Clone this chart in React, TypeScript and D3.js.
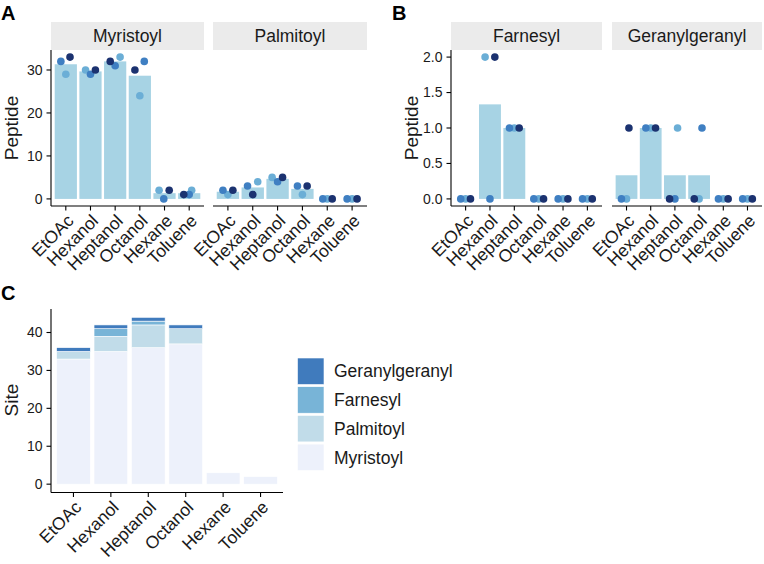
import React from "react";
import * as d3 from "d3";

const solvents = ["EtOAc", "Hexanol", "Heptanol", "Octanol", "Hexane", "Toluene"];
const replicateColors = ["#6baed6", "#3f7fc2", "#1b3270"];

// Panel A: peptide counts per replicate (light, medium, dark)
const myrRep1 = [29, 30, 33, 24, 2, 2];
const myrRep2 = [32, 29, 31, 32, 0, 1];
const myrRep3 = [33, 30, 32, 30, 2, 1];
const palRep1 = [1, 4, 5, 1, 0, 0];
const palRep2 = [2, 3, 4, 3, 0, 0];
const palRep3 = [2, 1, 5, 3, 0, 0];
// Panel B
const farRep1 = [0, 2, 1, 0, 0, 0];
const farRep2 = [0, 0, 1, 0, 0, 0];
const farRep3 = [0, 2, 1, 0, 0, 0];
const gerRep1 = [0, 1, 1, 0, 0, 0];
const gerRep2 = [0, 1, 0, 1, 0, 0];
const gerRep3 = [1, 1, 0, 0, 0, 0];

// horizontal jitter (fraction of category step) as seen in the reference
const myrJit = [[0, -0.2, 0.2, 0, -0.22, 0.1], [-0.2, 0, 0, 0.18, -0.03, 0], [0.17, 0.2, -0.2, -0.2, 0.19, -0.22]];
const palJit = [[0, 0.2, -0.22, 0, 0, 0], [-0.2, -0.21, 0, -0.2, -0.18, -0.2], [0.2, 0, 0.2, 0.19, 0.2, 0.2]];
const farJit = [[0, -0.2, 0, 0, 0, 0], [-0.2, 0, -0.2, -0.2, -0.2, -0.2], [0.2, 0.2, 0.2, 0.2, 0.2, 0.2]];
const gerJit = [[0, 0, 0.11, 0, 0, 0], [-0.21, -0.2, 0, 0.12, -0.2, -0.2], [0.1, 0.2, -0.22, -0.2, 0.2, 0.2]];

// Panel C: site counts
const siteMyristoyl = [33, 35, 36, 37, 3, 2];
const sitePalmitoyl = [2, 4, 6, 4, 0, 0];
const siteFarnesyl = [0, 2, 1, 0, 0, 0];
const siteGeranylgeranyl = [1, 1, 1, 1, 0, 0];
const siteTypes = ["Myristoyl", "Palmitoyl", "Farnesyl", "Geranylgeranyl"];
const siteColors = ["#edf1fb", "#c1dce9", "#78b4d7", "#407bbd"];

const ticksA = [0, 10, 20, 30];
const ticksB = [0, 0.5, 1, 1.5, 2];
const ticksC = [0, 10, 20, 30, 40];

const FONT = "Liberation Sans, Arial, Helvetica, sans-serif";
const BAR = "#a7d3e4";
const TXT = "#1a1a1a";
const TICK = 4.5;

type Facet = { name: string; x0: number; x1: number; reps: number[][]; jit: number[][]; yAxis: boolean };

function XAxis({ x, y }: { x: d3.ScaleBand<string>; y: number }) {
  const [r0, r1] = x.range();
  return (
    <g>
      <line x1={r0} x2={r1} y1={y} y2={y} stroke="#000" strokeWidth={1.1} />
      {solvents.map((s) => {
        const cx = (x(s) as number) + x.bandwidth() / 2;
        const ty = y + TICK + 2.5;
        return (
          <g key={s}>
            <line x1={cx} x2={cx} y1={y} y2={y + TICK} stroke="#000" strokeWidth={1.1} />
            <text x={cx} y={ty} dy="0.72em" textAnchor="end" fontSize={17.5} fill={TXT}
              transform={`rotate(-45, ${cx}, ${ty})`}>{s}</text>
          </g>
        );
      })}
    </g>
  );
}

function YAxis({ y, x, ticks, fmt }: { y: d3.ScaleLinear<number, number>; x: number; ticks: number[]; fmt: (v: number) => string }) {
  const [b, t] = y.range();
  return (
    <g>
      <line x1={x} x2={x} y1={b} y2={t} stroke="#000" strokeWidth={1.1} />
      {ticks.map((v) => (
        <g key={v}>
          <line x1={x - TICK} x2={x} y1={y(v)} y2={y(v)} stroke="#000" strokeWidth={1.1} />
          <text x={x - TICK - 4} y={y(v)} dy="0.35em" textAnchor="end" fontSize={14} fill={TXT}>{fmt(v)}</text>
        </g>
      ))}
    </g>
  );
}

function PeptidePanel({ facets, y, ticks, fmt }: { facets: Facet[]; y: d3.ScaleLinear<number, number>; ticks: number[]; fmt: (v: number) => string }) {
  const [yb, yt] = y.range();
  return (
    <g>
      {facets.map((f) => {
        const x = d3.scaleBand<string>().domain(solvents).range([f.x0, f.x1]).paddingInner(0.1).paddingOuter(0.15);
        const step = x.step();
        const means = solvents.map((_, i) => d3.mean(f.reps.map((r) => r[i])) as number);
        return (
          <g key={f.name}>
            <rect x={f.x0} y={22} width={f.x1 - f.x0} height={yt - 22} fill="#ebebeb" />
            <text x={(f.x0 + f.x1) / 2} y={36} dy="0.35em" textAnchor="middle" fontSize={17.5} fill={TXT}>{f.name}</text>
            {solvents.map((s, i) => (
              <rect key={s} x={x(s)} y={y(means[i])} width={x.bandwidth()} height={y(0) - y(means[i])} fill={BAR} />
            ))}
            {f.reps.map((rep, ri) =>
              rep.map((v, i) => (
                <circle key={`${ri}-${i}`} cx={(x(solvents[i]) as number) + x.bandwidth() / 2 + f.jit[ri][i] * step}
                  cy={y(v)} r={3.8} fill={replicateColors[ri]} />
              ))
            )}
            <XAxis x={x} y={yb} />
            {f.yAxis && <YAxis y={y} x={f.x0} ticks={ticks} fmt={fmt} />}
          </g>
        );
      })}
    </g>
  );
}

export default function App() {
  const yA = d3.scaleLinear().domain([-1.65, 34.65]).range([206, 50]);
  const yB = d3.scaleLinear().domain([-0.1, 2.1]).range([206, 50]);
  const yC = d3.scaleLinear().domain([-2.2, 46.2]).range([492.5, 309]);
  const xC = d3.scaleBand<string>().domain(solvents).range([51, 283]).paddingInner(0.1).paddingOuter(0.15);

  const facetsA: Facet[] = [
    { name: "Myristoyl", x0: 51, x1: 204, reps: [myrRep1, myrRep2, myrRep3], jit: myrJit, yAxis: true },
    { name: "Palmitoyl", x0: 213, x1: 367, reps: [palRep1, palRep2, palRep3], jit: palJit, yAxis: false },
  ];
  const facetsB: Facet[] = [
    { name: "Farnesyl", x0: 451, x1: 602, reps: [farRep1, farRep2, farRep3], jit: farJit, yAxis: true },
    { name: "Geranylgeranyl", x0: 612, x1: 762, reps: [gerRep1, gerRep2, gerRep3], jit: gerJit, yAxis: false },
  ];

  const siteRows = solvents.map((s, i) => ({
    solvent: s,
    Myristoyl: siteMyristoyl[i],
    Palmitoyl: sitePalmitoyl[i],
    Farnesyl: siteFarnesyl[i],
    Geranylgeranyl: siteGeranylgeranyl[i],
  }));
  const stacked = d3.stack<any>().keys(siteTypes)(siteRows);

  return (
    <svg width={764} height={564} style={{ position: "absolute", left: 0, top: 0, background: "#fff" }} fontFamily={FONT}>
      <rect width={764} height={564} fill="#fff" />
      <text x={1} y={20} fontSize={20} fontWeight="bold" fill="#000">A</text>
      <text x={392} y={20} fontSize={20} fontWeight="bold" fill="#000">B</text>
      <text x={1} y={300} fontSize={20} fontWeight="bold" fill="#000">C</text>

      <text transform={`translate(17.5, 128) rotate(-90)`} textAnchor="middle" fontSize={19} fill={TXT}>Peptide</text>
      <text transform={`translate(417.5, 128) rotate(-90)`} textAnchor="middle" fontSize={19} fill={TXT}>Peptide</text>
      <text transform={`translate(17.5, 400) rotate(-90)`} textAnchor="middle" fontSize={19} fill={TXT}>Site</text>

      <PeptidePanel facets={facetsA} y={yA} ticks={ticksA} fmt={(v) => String(v)} />
      <PeptidePanel facets={facetsB} y={yB} ticks={ticksB} fmt={d3.format(".1f")} />

      <g>
        {stacked.map((layer, li) => (
          <g key={layer.key}>
            {layer.map((d, i) => (
              d[1] - d[0] > 0 ? (
                <rect key={i} x={xC(solvents[i])} y={yC(d[1])} width={xC.bandwidth()} height={yC(d[0]) - yC(d[1])}
                  fill={siteColors[li]} stroke="#fff" strokeWidth={0.6} />
              ) : null
            ))}
          </g>
        ))}
        <XAxis x={xC} y={492.5} />
        <YAxis y={yC} x={51} ticks={ticksC} fmt={(v) => String(v)} />
      </g>

      <g>
        {siteTypes.slice().reverse().map((t, i) => {
          const ci = siteTypes.length - 1 - i;
          const ky = 358 + i * 28.7;
          return (
            <g key={t}>
              <rect x={297.5} y={ky} width={26.5} height={26.5} fill={siteColors[ci]} stroke="#fff" strokeWidth={0.6} />
              <text x={334} y={ky + 13.3} dy="0.35em" fontSize={17.5} fill={TXT}>{t}</text>
            </g>
          );
        })}
      </g>
    </svg>
  );
}
